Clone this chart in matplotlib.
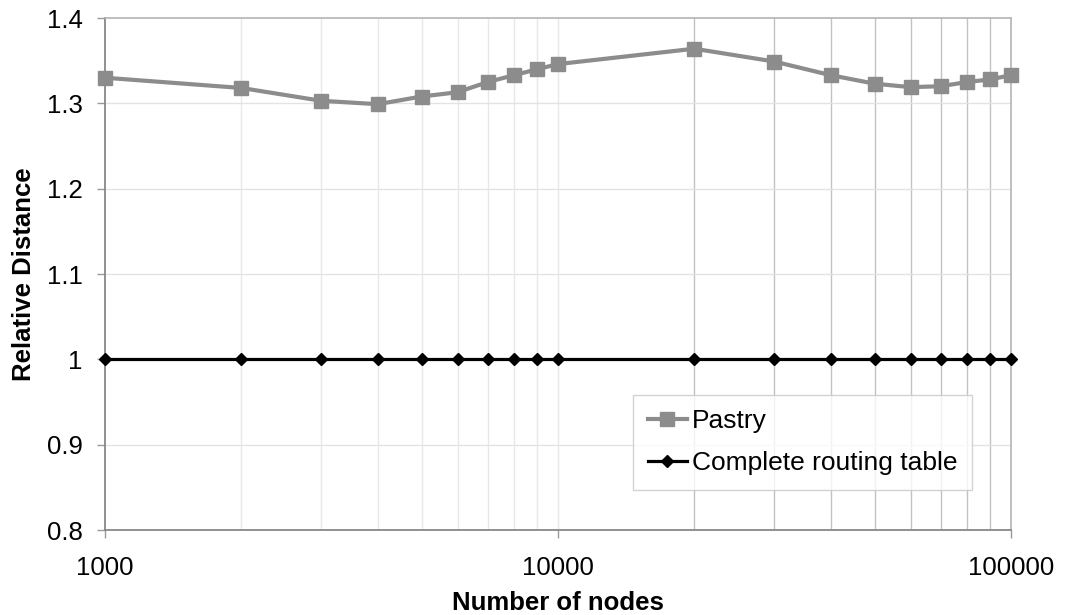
import numpy as np
import matplotlib
matplotlib.use("Agg")
import matplotlib.pyplot as plt

plt.rcParams["font.family"] = ["Liberation Sans", "DejaVu Sans"]

# Network sizes and mean relative route distance
nodes = [1000, 2000, 3000, 4000, 5000, 6000, 7000, 8000, 9000, 10000,
         20000, 30000, 40000, 50000, 60000, 70000, 80000, 90000, 100000]
pastry = [1.330, 1.318, 1.303, 1.299, 1.308, 1.313, 1.325, 1.333, 1.340, 1.346,
          1.364, 1.349, 1.333, 1.323, 1.319, 1.320, 1.325, 1.328, 1.333]
complete_table = [1.0] * len(nodes)

x_ticks = [1000, 10000, 100000]
y_ticks = [0.8, 0.9, 1.0, 1.1, 1.2, 1.3, 1.4]
y_labels = ["0.8", "0.9", "1", "1.1", "1.2", "1.3", "1.4"]

FS = 18.5

fig = plt.figure(figsize=(10.77, 6.15), dpi=100)
ax = fig.add_axes([105 / 1077, 1 - 530 / 615, 906 / 1077, 512 / 615])

ax.set_xscale("log")
ax.set_xlim(1000, 100000)
ax.set_ylim(0.8, 1.4)

# vertical grid: pale in the first decade, darker in the second
for n in nodes[1:-1]:
    col = "#e8e8e8" if n <= 10000 else "#c2c2c2"
    ax.axvline(n, color=col, lw=1.0, zorder=0)
for y in y_ticks[1:-1]:
    ax.axhline(y, color="#e3e3e3", lw=1.0, zorder=0)

ax.plot(nodes, pastry, color="#8c8c8c", lw=3.0, marker="s", ms=9.5,
        mec="#8c8c8c", label="Pastry", zorder=3, clip_on=False)
ax.plot(nodes, complete_table, color="black", lw=2.3, marker="D", ms=6.5,
        label="Complete routing table", zorder=4, clip_on=False)

ax.set_xticks(x_ticks)
ax.set_xticklabels([str(t) for t in x_ticks])
ax.xaxis.set_minor_locator(matplotlib.ticker.NullLocator())
ax.set_yticks(y_ticks)
ax.set_yticklabels(y_labels)
ax.tick_params(axis="both", labelsize=FS, colors="#999999", labelcolor="black",
               length=6, width=1)
ax.tick_params(axis="y", pad=10)
ax.tick_params(axis="x", pad=13)

for side in ["left", "bottom"]:
    ax.spines[side].set_color("#888888")
    ax.spines[side].set_linewidth(1.3)
for side in ["top", "right"]:
    ax.spines[side].set_color("#b4b4b4")
    ax.spines[side].set_linewidth(1.2)

ax.set_xlabel("Number of nodes", fontsize=FS, fontweight="bold", labelpad=8)
ax.set_ylabel("Relative Distance", fontsize=FS, fontweight="bold", labelpad=8)

leg = ax.legend(loc="lower left", bbox_to_anchor=(528 / 906, 40 / 512),
                fontsize=19, frameon=True, fancybox=False, handlelength=1.5,
                handletextpad=0.2, borderpad=0.55, labelspacing=0.7,
                borderaxespad=0)
leg.get_frame().set_edgecolor("#c8c8c8")
leg.get_frame().set_linewidth(1.0)

fig.savefig("out.png", dpi=100)
